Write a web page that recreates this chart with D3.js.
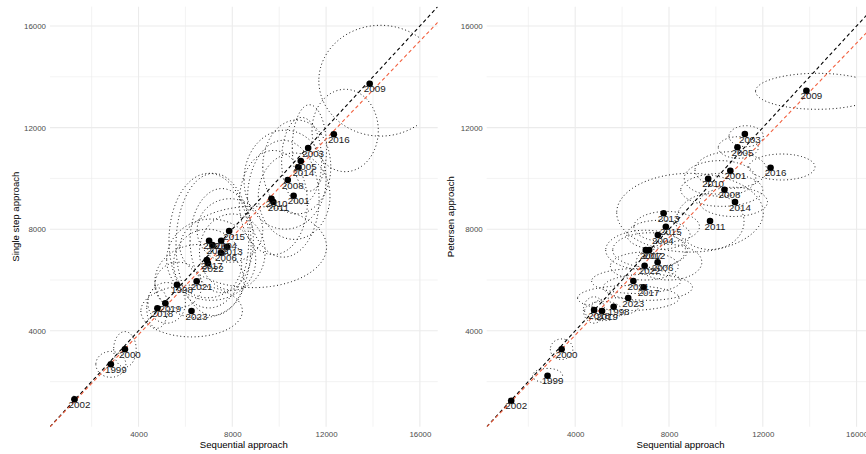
<!DOCTYPE html>
<html><head><meta charset="utf-8">
<script src="https://cdn.jsdelivr.net/npm/d3@7"></script>
<style>body{margin:0;background:#fff}svg{display:block;font-family:"Liberation Sans",Arial,sans-serif}</style>
</head><body><svg id="c" width="866" height="454"></svg>
<script>
// ---- data ----
const years     = [1998,1999,2000,2001,2002,2003,2004,2005,2006,2007,2008,2009,2010,2011,2012,2013,2014,2015,2016,2017,2018,2019,2021,2022,2023];
const seqEst    = [5640,2820,3420,10615,1270,11235,7525,10920,7515,7010,10365,13860,9670,9750,7155,7770,10815,7865,12330,6915,4805,5145,6480,6960,6260];
const seqLo     = [4700,2180,2940,9109,1150,10559,6200,10103,6600,5300,8500,11690,8650,8300,5600,5769,9300,6500,11400,5200,4350,4400,4700,5500,4100];
const seqHi     = [6700,3460,3900,12167,1390,12022,8900,11809,9400,8700,12000,16950,11700,11200,8800,12022,12200,9300,14227,9000,5250,6000,8500,8400,8430];
const singleEst = [5815,2682,3272,9319,1304,11197,7548,10686,7075,7548,9938,13729,9201,9071,7379,7312,10438,7930,11737,6788,4886,5083,5950,6658,4780];
const singleLo  = [4900,2170,2570,7600,1180,9500,5500,9000,5600,4900,8000,11665,6900,7000,4600,5700,8600,6700,10264,5200,4100,4300,4500,5300,3760];
const singleHi  = [6700,3190,3970,11000,1430,12900,9600,12400,8600,10200,11900,16028,11500,11100,10200,8900,12300,9200,13508,8400,5700,5900,7400,8000,5800];
const petEst    = [4949,2233,3272,10304,1249,11749,7772,11225,6697,7182,9556,13453,9989,8323,7182,8627,9071,8099,10422,5713,4819,4780,5961,6564,5292];
const petLo     = [4600,1950,2870,9611,1200,11249,7200,10792,6000,6400,8900,12721,9300,7200,6500,7100,8500,7500,9938,5200,4300,4400,5470,6000,4800];
const petHi     = [5300,2520,3680,11052,1300,12075,8350,11642,7400,7960,10200,14138,10700,9400,7860,10200,9650,8700,10961,6230,5340,5160,6450,7100,5780];
const fitSlope  = [0.963, 0.958];           // dashed red fitted line (through origin)
const axisDomain = [225, 16760];
const majorTicks = [4000, 8000, 12000, 16000];
const minorTicks = [2000, 6000, 10000, 14000];
const ellipseXCut = 16000;
const xTitle = "Sequential approach";
const yTitles = ["Single step approach", "Petersen approach"];

// ---- drawing ----
const svg = d3.select("#c");
const yTop = 6.7, yBot = 426.7;
const panels = [
  {x0: 50,    x1: 437.7, est: singleEst, lo: singleLo, hi: singleHi, titleX: 15.5},
  {x0: 486.7, x1: 874.4, est: petEst,    lo: petLo,    hi: petHi,    titleX: 451}
];
const defs = svg.append("defs");

panels.forEach((p, i) => {
  const x = d3.scaleLinear().domain(axisDomain).range([p.x0, p.x1]);
  const y = d3.scaleLinear().domain(axisDomain).range([yBot, yTop]);
  const cid = "clip" + i;
  defs.append("clipPath").attr("id", cid).append("rect")
    .attr("x", p.x0).attr("y", yTop).attr("width", p.x1 - p.x0).attr("height", yBot - yTop);

  const g = svg.append("g");
  const grid = g.append("g");
  grid.selectAll(".vmin").data(minorTicks).join("line")
    .attr("x1", d => x(d)).attr("x2", d => x(d)).attr("y1", yTop).attr("y2", yBot)
    .attr("stroke", "#EBEBEB").attr("stroke-width", 0.6);
  grid.selectAll(".hmin").data(minorTicks).join("line")
    .attr("y1", d => y(d)).attr("y2", d => y(d)).attr("x1", p.x0).attr("x2", p.x1)
    .attr("stroke", "#EBEBEB").attr("stroke-width", 0.6);
  grid.selectAll(".vmaj").data(majorTicks).join("line")
    .attr("x1", d => x(d)).attr("x2", d => x(d)).attr("y1", yTop).attr("y2", yBot)
    .attr("stroke", "#EBEBEB").attr("stroke-width", 1.1);
  grid.selectAll(".hmaj").data(majorTicks).join("line")
    .attr("y1", d => y(d)).attr("y2", d => y(d)).attr("x1", p.x0).attr("x2", p.x1)
    .attr("stroke", "#EBEBEB").attr("stroke-width", 1.1);

  const ax = g.append("g").attr("transform", `translate(0,${yBot})`)
    .call(d3.axisBottom(x).tickValues(majorTicks).tickSize(0).tickPadding(4.6).tickFormat(d3.format("d")));
  const ay = g.append("g").attr("transform", `translate(${p.x0},0)`)
    .call(d3.axisLeft(y).tickValues(majorTicks).tickSize(0).tickPadding(4).tickFormat(d3.format("d")));
  [ax, ay].forEach(a => {
    a.select(".domain").remove();
    a.selectAll("text").attr("fill", "#4D4D4D").attr("font-size", 7.9).attr("font-family", "Liberation Sans, Arial, sans-serif");
  });

  g.append("text").attr("x", (p.x0 + p.x1) / 2).attr("y", 447.8).attr("text-anchor", "middle")
    .attr("font-size", 9.6).attr("fill", "#000").text(xTitle);
  g.append("text").attr("transform", `translate(${p.titleX},${(yTop + yBot) / 2}) rotate(-90)`)
    .attr("text-anchor", "middle").attr("dy", "0.35em")
    .attr("font-size", 9.6).attr("fill", "#000").text(yTitles[i]);

  const plot = g.append("g").attr("clip-path", `url(#${cid})`);

  const line = d3.line().defined(d => d[0] <= ellipseXCut).x(d => x(d[0])).y(d => y(d[1]));
  const N = 160;
  const ell = years.map((yr, k) => {
    const cx = (seqLo[k] + seqHi[k]) / 2, rx = (seqHi[k] - seqLo[k]) / 2;
    const cy = (p.lo[k] + p.hi[k]) / 2, ry = (p.hi[k] - p.lo[k]) / 2;
    return d3.range(N + 1).map(j => {
      const t = Math.PI + 2 * Math.PI * j / N;
      return [cx + rx * Math.cos(t), cy + ry * Math.sin(t)];
    });
  });
  plot.selectAll(".ell").data(ell).join("path")
    .attr("d", line).attr("fill", "none").attr("stroke", "#111")
    .attr("stroke-width", 1).attr("stroke-dasharray", "1,2.6");

  plot.append("path").attr("d", d3.line().x(d => x(d)).y(d => y(d))(axisDomain))
    .attr("stroke", "#000").attr("stroke-width", 1.1).attr("stroke-dasharray", "3.6,2.8").attr("fill", "none");
  plot.append("path").attr("d", d3.line().x(d => x(d)).y(d => y(fitSlope[i] * d))(axisDomain))
    .attr("stroke", "#F2603F").attr("stroke-width", 1.1).attr("stroke-dasharray", "3.6,2.8").attr("fill", "none");

  plot.selectAll(".pt").data(years).join("circle")
    .attr("cx", (d, k) => x(seqEst[k])).attr("cy", (d, k) => y(p.est[k])).attr("r", 3.3).attr("fill", "#000");
  plot.selectAll(".lb").data(years).join("text")
    .attr("x", (d, k) => x(seqEst[k]) + 5).attr("y", (d, k) => y(p.est[k]) + 8.6)
    .attr("text-anchor", "middle").attr("font-size", 9.8).attr("fill", "#1a1a1a").text(d => d);
});
</script></body></html>
